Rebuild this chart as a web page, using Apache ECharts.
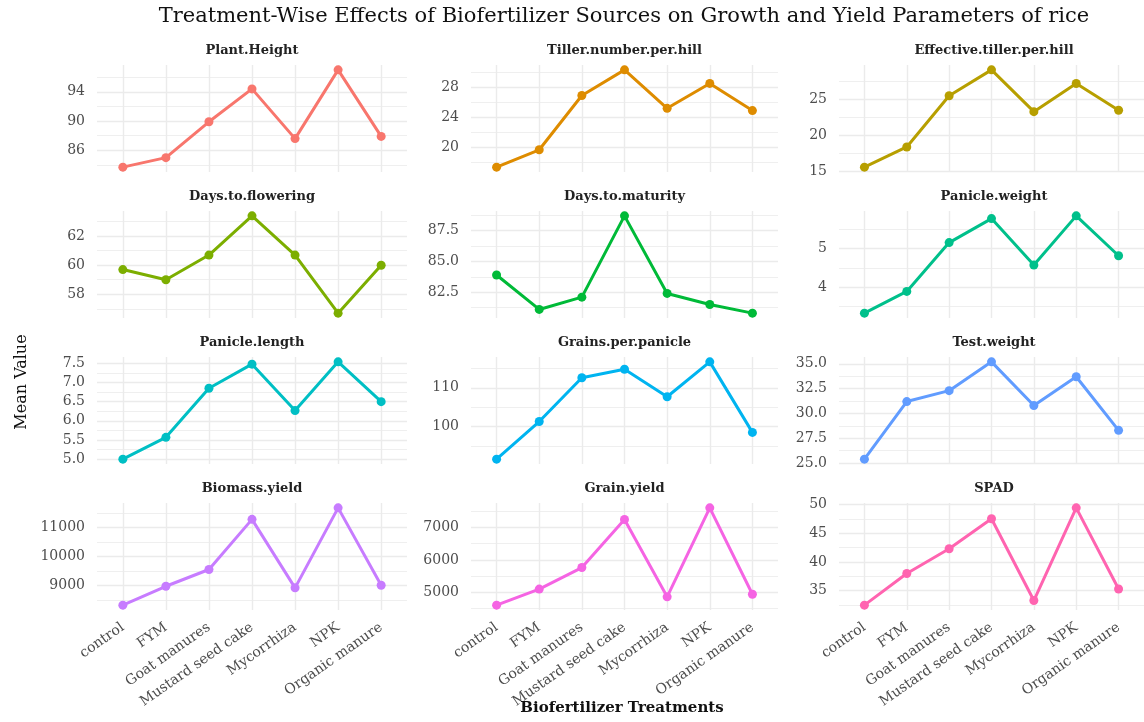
<!DOCTYPE html>
<html>
<head>
<meta charset="utf-8">
<script src="https://cdn.jsdelivr.net/npm/echarts@6/dist/echarts.min.js"></script>
<style>
  html, body { margin: 0; padding: 0; background: #ffffff; }
  #chart { width: 1144px; height: 722px; }
</style>
</head>
<body>
<div id="chart"></div>
<script>
// Treatments on the shared x axis
const treatments = ['control', 'FYM', 'Goat manures', 'Mustard seed cake', 'Mycorrhiza', 'NPK', 'Organic manure'];

// Mean value of each parameter per treatment (same order as treatments)
const plantHeight      = [83.7, 85.0, 89.9, 94.4, 87.6, 97.0, 87.9];
const tillerNumber     = [17.4, 19.7, 26.9, 30.3, 25.2, 28.5, 24.9];
const effectiveTiller  = [15.6, 18.4, 25.5, 29.1, 23.3, 27.2, 23.5];
const daysFlowering    = [59.7, 59.0, 60.7, 63.4, 60.7, 56.7, 60.0];
const daysMaturity     = [83.9, 81.1, 82.1, 88.7, 82.4, 81.5, 80.8];
const panicleWeight    = [3.33, 3.89, 5.15, 5.77, 4.57, 5.84, 4.81];
const panicleLength    = [5.00, 5.57, 6.85, 7.48, 6.27, 7.54, 6.50];
const grainsPerPanicle = [91.6, 101.3, 112.6, 114.8, 107.7, 116.7, 98.5];
const testWeight       = [25.4, 31.2, 32.3, 35.2, 30.8, 33.7, 28.3];
const biomassYield     = [8315, 8966, 9545, 11274, 8911, 11671, 9000];
const grainYield       = [4609, 5102, 5766, 7246, 4865, 7603, 4945];
const spad             = [32.5, 38.0, 42.3, 47.5, 33.3, 49.4, 35.3];

// Y tick labels of each panel
const plantHeightTicks      = ['86', '90', '94'];
const tillerNumberTicks     = ['20', '24', '28'];
const effectiveTillerTicks  = ['15', '20', '25'];
const daysFloweringTicks    = ['58', '60', '62'];
const daysMaturityTicks     = ['82.5', '85.0', '87.5'];
const panicleWeightTicks    = ['4', '5'];
const panicleLengthTicks    = ['5.0', '5.5', '6.0', '6.5', '7.0', '7.5'];
const grainsPerPanicleTicks = ['100', '110'];
const testWeightTicks       = ['25.0', '27.5', '30.0', '32.5', '35.0'];
const biomassYieldTicks     = ['9000', '10000', '11000'];
const grainYieldTicks       = ['5000', '6000', '7000'];
const spadTicks             = ['35', '40', '45', '50'];

const panels = [
  { name: 'Plant.Height',              values: plantHeight,      ticks: plantHeightTicks },
  { name: 'Tiller.number.per.hill',    values: tillerNumber,     ticks: tillerNumberTicks },
  { name: 'Effective.tiller.per.hill', values: effectiveTiller,  ticks: effectiveTillerTicks },
  { name: 'Days.to.flowering',         values: daysFlowering,    ticks: daysFloweringTicks },
  { name: 'Days.to.maturity',          values: daysMaturity,     ticks: daysMaturityTicks },
  { name: 'Panicle.weight',            values: panicleWeight,    ticks: panicleWeightTicks },
  { name: 'Panicle.length',            values: panicleLength,    ticks: panicleLengthTicks },
  { name: 'Grains.per.panicle',        values: grainsPerPanicle, ticks: grainsPerPanicleTicks },
  { name: 'Test.weight',               values: testWeight,       ticks: testWeightTicks },
  { name: 'Biomass.yield',             values: biomassYield,     ticks: biomassYieldTicks },
  { name: 'Grain.yield',               values: grainYield,       ticks: grainYieldTicks },
  { name: 'SPAD',                      values: spad,             ticks: spadTicks }
];

// One hue per panel
const colors = ['#F8766D', '#DE8C00', '#B79F00', '#7CAE00', '#00BA38', '#00C08B',
                '#00BFC4', '#00B4F0', '#619CFF', '#C77CFF', '#F564E3', '#FF64B0'];

const FONT = 'DejaVu Serif';
const GRID_COLOR = '#EBEBEB';
const colLeft = [97, 471, 839];
const colWidth = [310, 307, 310];
const rowTop = [65, 211, 357, 503];
const panelH = 107;
const catIdx = treatments.map((t, k) => k);

const grid = [], xAxis = [], yAxis = [], series = [];
const graphic = [];

panels.forEach((p, i) => {
  const r = Math.floor(i / 3), c = i % 3;
  grid.push({ left: colLeft[c], top: rowTop[r], width: colWidth[c], height: panelH });

  // free y scale per panel with 5% padding around the data range
  const lo = Math.min(...p.values), hi = Math.max(...p.values);
  const pad = (hi - lo) * 0.05;
  const ymin = lo - pad, ymax = hi + pad;
  const major = p.ticks.map(Number);
  const step = major[1] - major[0];
  const minor = [];
  for (let v = major[0] - step / 2; v <= ymax + 1e-9; v += step) {
    const rv = Math.round(v * 1e6) / 1e6;
    if (rv >= ymin && rv <= ymax) minor.push(rv);
  }

  xAxis.push({
    type: 'value', gridIndex: i, min: -0.6, max: 6.6,
    axisLine: { show: false },
    axisTick: { show: false, customValues: catIdx },
    splitLine: { show: true, lineStyle: { color: GRID_COLOR, width: 1.4 } },
    axisLabel: {
      show: r === 3, customValues: catIdx,
      formatter: v => treatments[Math.round(v)],
      rotate: 35, margin: 16,
      color: '#4D4D4D', fontFamily: FONT, fontSize: 14
    }
  });

  // major grid + labels
  yAxis.push({
    type: 'value', gridIndex: i, min: ymin, max: ymax,
    axisLine: { show: false },
    axisTick: { show: false, customValues: major },
    splitLine: { show: true, lineStyle: { color: GRID_COLOR, width: 1.4 } },
    axisLabel: {
      customValues: major, margin: 12,
      formatter: v => {
        const k = major.findIndex(m => Math.abs(m - v) < 1e-6);
        return k >= 0 ? p.ticks[k] : '';
      },
      color: '#4D4D4D', fontFamily: FONT, fontSize: 14
    }
  });
  // minor grid
  yAxis.push({
    type: 'value', gridIndex: i, min: ymin, max: ymax, position: 'left',
    axisLine: { show: false },
    axisTick: { show: false, customValues: minor },
    axisLabel: { show: false },
    splitLine: { show: true, lineStyle: { color: GRID_COLOR, width: 0.8 } }
  });

  series.push({
    type: 'line', name: p.name,
    xAxisIndex: i, yAxisIndex: 2 * i,
    data: p.values.map((v, k) => [k, v]),
    symbol: 'circle', symbolSize: 9,
    lineStyle: { color: colors[i], width: 3 },
    itemStyle: { color: colors[i] },
    z: 3
  });

  // facet strip title
  graphic.push({
    type: 'text',
    x: colLeft[c] + colWidth[c] / 2, y: rowTop[r] - 14,
    style: {
      text: p.name, fill: '#222222', font: 'bold 13px "' + FONT + '"',
      textAlign: 'center', textVerticalAlign: 'middle'
    }
  });
});

graphic.push({
  type: 'text', x: 624, y: 17,
  style: {
    text: 'Treatment-Wise Effects of Biofertilizer Sources on Growth and Yield Parameters of rice',
    fill: '#111111', font: '21px "' + FONT + '"', textAlign: 'center', textVerticalAlign: 'middle'
  }
});
graphic.push({
  type: 'text', x: 622, y: 708,
  style: {
    text: 'Biofertilizer Treatments', fill: '#111111', font: 'bold 15px "' + FONT + '"',
    textAlign: 'center', textVerticalAlign: 'middle'
  }
});
graphic.push({
  type: 'text', x: 22, y: 382, rotation: Math.PI / 2,
  style: {
    text: 'Mean Value', fill: '#111111', font: '16px "' + FONT + '"',
    textAlign: 'center', textVerticalAlign: 'middle'
  }
});

const chart = echarts.init(document.getElementById('chart'), null, { renderer: 'canvas' });
chart.setOption({
  animation: false,
  backgroundColor: '#ffffff',
  grid, xAxis, yAxis, series, graphic
});
</script>
</body>
</html>
